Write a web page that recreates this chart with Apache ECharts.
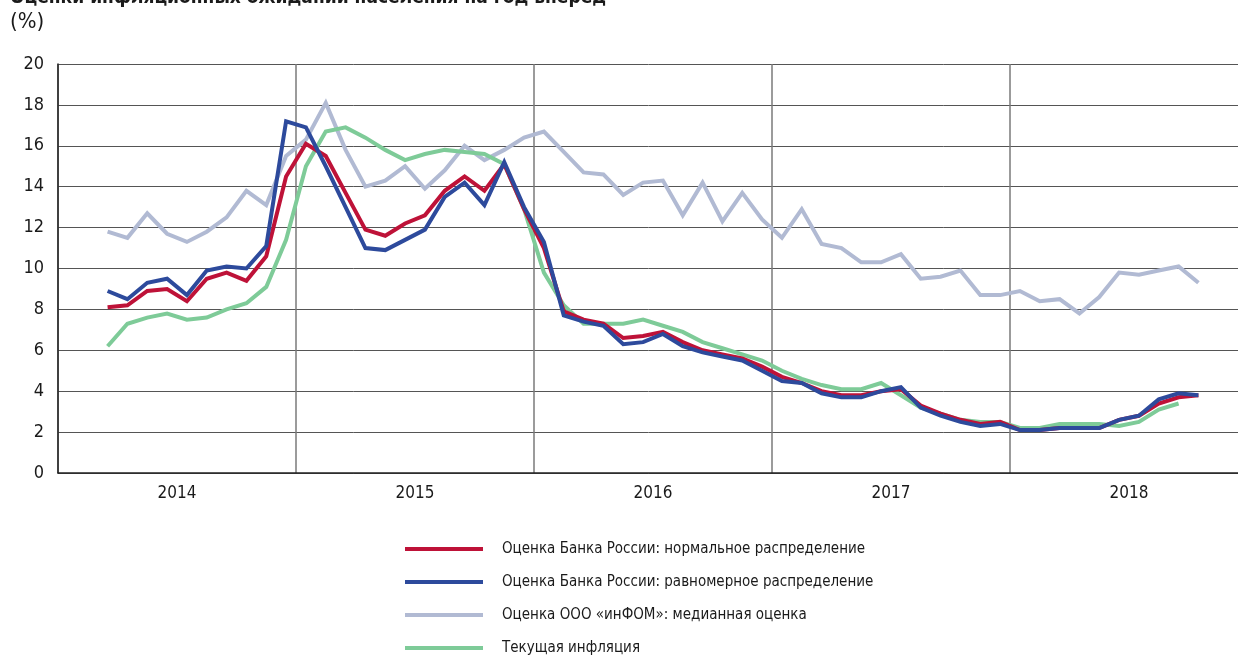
<!DOCTYPE html>
<html>
<head>
<meta charset="utf-8">
<script src="https://cdn.jsdelivr.net/npm/echarts@6/dist/echarts.min.js"></script>
<style>
  html, body { margin: 0; padding: 0; background: #fff; }
  #chart1 { width: 1238px; height: 655px; }
</style>
</head>
<body>
<div id="chart1"></div>
<script>
// months counted from Jan 2014, first point is Mar 2014
var firstMonth = 2;
var years = ['2014', '2015', '2016', '2017', '2018'];
var yTicks = [0, 2, 4, 6, 8, 10, 12, 14, 16, 18, 20];

var cbrNormal = [8.1, 8.2, 8.9, 9.0, 8.4, 9.5, 9.8, 9.4, 10.6, 14.5, 16.1, 15.5, 13.7, 11.9, 11.6, 12.2,
  12.6, 13.8, 14.5, 13.8, 15.1, 12.9, 11.0, 7.9, 7.5, 7.3, 6.6, 6.7, 6.9, 6.4, 6.0, 5.8, 5.6, 5.2,
  4.7, 4.4, 4.0, 3.8, 3.8, 4.0, 4.1, 3.3, 2.9, 2.6, 2.4, 2.5, 2.1, 2.1, 2.2, 2.2, 2.2, 2.6, 2.8,
  3.4, 3.7, 3.8];
var cbrUniform = [8.9, 8.5, 9.3, 9.5, 8.7, 9.9, 10.1, 10.0, 11.1, 17.2, 16.9, 15.0, 13.0, 11.0, 10.9, 11.4,
  11.9, 13.5, 14.2, 13.1, 15.2, 13.0, 11.3, 7.7, 7.4, 7.2, 6.3, 6.4, 6.8, 6.2, 5.9, 5.7, 5.5, 5.0,
  4.5, 4.4, 3.9, 3.7, 3.7, 4.0, 4.2, 3.2, 2.8, 2.5, 2.3, 2.4, 2.1, 2.1, 2.2, 2.2, 2.2, 2.6, 2.8,
  3.6, 3.9, 3.8];
var infom = [11.8, 11.5, 12.7, 11.7, 11.3, 11.8, 12.5, 13.8, 13.1, 15.5, 16.3, 18.1, 15.8, 14.0, 14.3, 15.0,
  13.9, 14.8, 16.0, 15.3, 15.8, 16.4, 16.7, 15.7, 14.7, 14.6, 13.6, 14.2, 14.3, 12.6, 14.2, 12.3, 13.7, 12.4,
  11.5, 12.9, 11.2, 11.0, 10.3, 10.3, 10.7, 9.5, 9.6, 9.9, 8.7, 8.7, 8.9, 8.4, 8.5, 7.8, 8.6, 9.8, 9.7,
  9.9, 10.1, 9.3];
var inflation = [6.2, 7.3, 7.6, 7.8, 7.5, 7.6, 8.0, 8.3, 9.1, 11.4, 15.0, 16.7, 16.9, 16.4, 15.8, 15.3,
  15.6, 15.8, 15.7, 15.6, 15.1, 12.9, 9.8, 8.2, 7.3, 7.3, 7.3, 7.5, 7.2, 6.9, 6.4, 6.1, 5.8, 5.5,
  5.0, 4.6, 4.3, 4.1, 4.1, 4.4, 3.8, 3.2, 2.9, 2.6, 2.5, 2.5, 2.2, 2.2, 2.4, 2.4, 2.4, 2.3, 2.5,
  3.1, 3.4];

var names = [
  'Оценка Банка России: нормальное распределение',
  'Оценка Банка России: равномерное распределение',
  'Оценка ООО «инФОМ»: медианная оценка',
  'Текущая инфляция'
];
var colors = ['#BE1238', '#2D4A9C', '#B1BAD3', '#7ECB98'];

function toPoints(arr) {
  return arr.map(function (v, k) { return [firstMonth + k + 0.5, v]; });
}

var font = "'DejaVu Sans Condensed', 'Liberation Sans Narrow', sans-serif";

var chartDom = document.getElementById('chart1');
var myChart = echarts.init(chartDom);
var option;

var seriesData = [cbrNormal, cbrUniform, infom, inflation];
// draw order: grey and green behind the CBR lines
var order = [2, 3, 0, 1];

var legendBase = {
    orient: 'vertical',
    left: 400,
    itemWidth: 78,
    itemHeight: 4,
    itemGap: 13,
    icon: 'rect',
    textStyle: {fontFamily: font, fontSize: 15, color: '#1a1a1a', lineHeight: 20, padding: [0, 0, 0, 14]}
};

option = {
    animation: false,
    color: colors,
    graphic: [
        {
            type: 'text', left: 10, top: -11,
            style: {text: 'Оценки инфляционных ожиданий населения на год вперед',
                    font: 'bold 19px ' + font, fill: '#1a1a1a'}
        },
        {
            type: 'text', left: 10, top: 11,
            style: {text: '(%)', font: '22px ' + font, fill: '#1a1a1a'}
        }
    ],
    legend: [
        Object.assign({top: 534, data: names.slice(0, 3)}, legendBase),
        Object.assign({top: 633, data: names.slice(3)}, legendBase)
    ],
    grid: {left: 58, top: 64, height: 409, width: 1190, outerBoundsMode: 'none', containLabel: false},
    xAxis: [
        {type: 'value', min: 0, max: 60, show: false},
        {
            type: 'category',
            data: years,
            position: 'bottom',
            boundaryGap: true,
            axisLine: {show: true, lineStyle: {color: '#222', width: 1.5}},
            axisTick: {show: false},
            axisLabel: {fontFamily: font, fontSize: 17, color: '#1a1a1a', margin: 12},
            splitLine: {show: true, interval: 0, lineStyle: {color: '#7a7a7a', width: 1.5}}
        }
    ],
    yAxis: {
        type: 'value',
        min: yTicks[0],
        max: yTicks[yTicks.length - 1],
        interval: 2,
        axisLine: {show: true, lineStyle: {color: '#222', width: 1.5}},
        axisTick: {show: false},
        axisLabel: {fontFamily: font, fontSize: 18, color: '#1a1a1a', margin: 14},
        splitLine: {lineStyle: {color: '#555', width: 1}}
    },
    series: order.map(function (idx) {
        return {
            name: names[idx],
            type: 'line',
            xAxisIndex: 0,
            data: toPoints(seriesData[idx]),
            showSymbol: false,
            symbol: 'none',
            lineStyle: {width: 4, color: colors[idx], join: 'miter'},
            itemStyle: {color: colors[idx]},
            z: 2 + order.indexOf(idx)
        };
    })
};

option && myChart.setOption(option);
</script>
</body>
</html>
